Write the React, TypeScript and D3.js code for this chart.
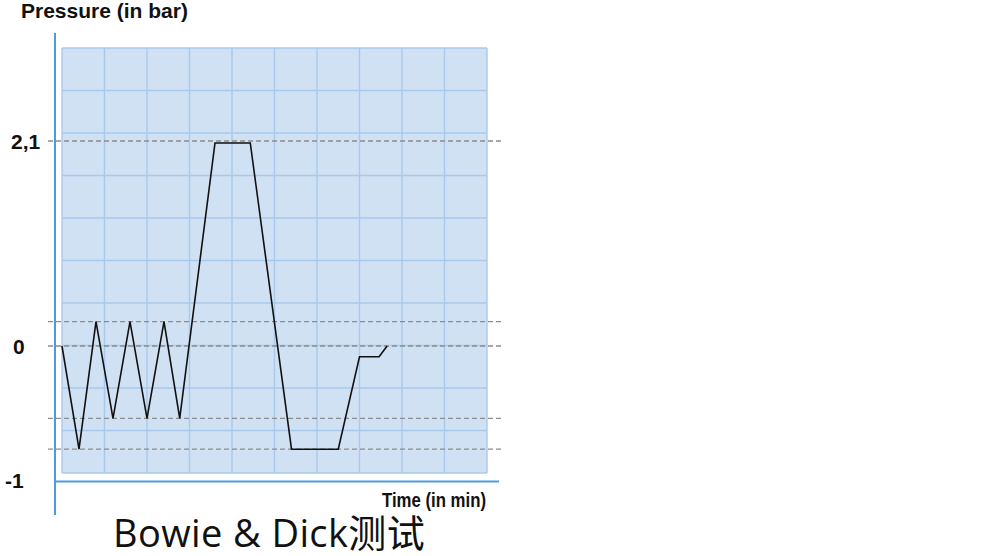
import React from "react";
import * as d3 from "d3";

// ---- data ----
const timeMin: number[] = [0, 0.4, 0.8, 1.2, 1.6, 2.0, 2.4, 2.77, 3.6, 4.43, 5.4, 6.5, 7.0, 7.46, 7.65];
const pressureBar: number[] = [0, -0.77, 0.25, -0.54, 0.25, -0.54, 0.25, -0.54, 2.08, 2.08, -0.77, -0.77, -0.08, -0.08, 0];
const refLevels: number[] = [2.1, 0.25, 0, -0.54, -0.77];
const yTickValues: number[] = [2.1, 0, -1];
const yTickLabels: string[] = ["2,1", "0", "-1"];
const gridSteps: number[] = d3.range(0, 11);

const yTitle = "Pressure (in bar)";
const xTitle = "Time (in min)";
const caption = "Bowie & Dick测试";

const W = 1000;
const H = 556;

export default function App() {
  const x = d3.scaleLinear().domain([0, 10]).range([62, 487]);
  const y = d3.scaleLinear().domain([-1, 0, 2.1]).range([480, 346, 141]);
  const gy = d3.scaleLinear().domain([0, 10]).range([48, 473]);

  const line = d3
    .line<number>()
    .x((_, i) => x(timeMin[i]))
    .y((d) => y(d));

  const boldFont = "'Liberation Sans', Arial, Helvetica, sans-serif";

  return (
    <svg
      width={W}
      height={H}
      viewBox={`0 0 ${W} ${H}`}
      style={{ position: "absolute", left: 0, top: 0, background: "#fff" }}
    >
      {/* plot background */}
      <rect x={x(0)} y={gy(0)} width={x(10) - x(0)} height={gy(10) - gy(0)} fill="#d0e1f4" />
      {gridSteps.map((s) => (
        <line key={"gv" + s} x1={x(s)} x2={x(s)} y1={gy(0)} y2={gy(10)} stroke="#a9c9ec" strokeWidth={1.4} />
      ))}
      {gridSteps.map((s) => (
        <line key={"gh" + s} x1={x(0)} x2={x(10)} y1={gy(s)} y2={gy(s)} stroke="#a9c9ec" strokeWidth={1.4} />
      ))}

      {/* axes */}
      <line x1={55} x2={55} y1={33} y2={515} stroke="#4a9be0" strokeWidth={2} />
      <line x1={54} x2={499} y1={481.5} y2={481.5} stroke="#4a9be0" strokeWidth={2} />

      {/* dashed reference levels */}
      {refLevels.map((v) => (
        <line
          key={"ref" + v}
          x1={48}
          x2={502}
          y1={y(v)}
          y2={y(v)}
          stroke="#8c8c8c"
          strokeWidth={1.3}
          strokeDasharray="5,3"
        />
      ))}

      {/* pressure curve */}
      <path d={line(pressureBar) || ""} fill="none" stroke="#111" strokeWidth={1.6} strokeLinejoin="miter" />

      {/* y tick labels */}
      {yTickValues.map((v, i) => (
        <text
          key={"yt" + v}
          x={v === 2.1 ? 11 : v === 0 ? 13 : 5}
          y={y(v)}
          dy="0.36em"
          fontFamily={boldFont}
          fontWeight="bold"
          fontSize={21}
          fill="#111"
        >
          {yTickLabels[i]}
        </text>
      ))}

      {/* titles */}
      <text x={21} y={18} fontFamily={boldFont} fontWeight="bold" fontSize={21} fill="#111">
        {yTitle}
      </text>
      <text
        x={382}
        y={507}
        textLength={104}
        lengthAdjust="spacingAndGlyphs"
        fontFamily={boldFont}
        fontWeight="bold"
        fontSize={20}
        fill="#111"
      >
        {xTitle}
      </text>
      <text
        x={113}
        y={547}
        fontFamily="'Open Sans', 'Noto Sans CJK SC', sans-serif"
        fontSize={38}
        letterSpacing={0.4}
        fill="#111"
      >
        {caption}
      </text>
    </svg>
  );
}
